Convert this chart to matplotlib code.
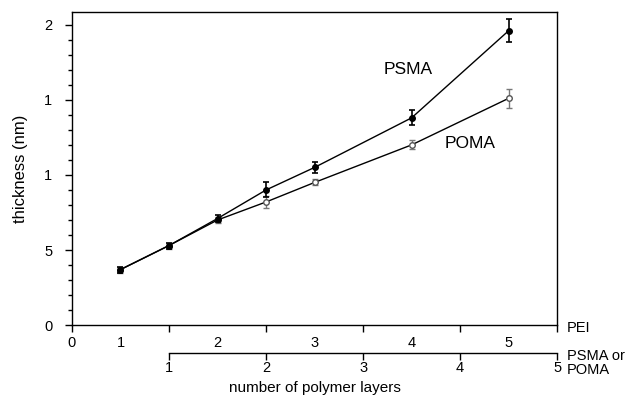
import matplotlib
matplotlib.use("Agg")
import matplotlib.pyplot as plt

plt.rcParams["font.family"] = ["Liberation Sans", "DejaVu Sans"]

# position along the deposition sequence (PEI layers odd, PSMA/POMA even)
x_psma = [1, 2, 3, 4, 5, 7, 9]
y_psma = [3.7, 5.3, 7.1, 9.0, 10.5, 13.8, 19.6]
e_psma = [0.2, 0.2, 0.2, 0.5, 0.35, 0.5, 0.75]

x_poma = [1, 2, 3, 4, 5, 7, 9]
y_poma = [3.7, 5.3, 7.0, 8.2, 9.5, 12.0, 15.1]
e_poma = [0.2, 0.2, 0.2, 0.4, 0.2, 0.3, 0.65]

yticks = [0, 5, 10, 15, 20]
ytick_labels = ["0", "5", "1", "1", "2"]
pei_pos = [1, 3, 5, 7, 9]
pei_labels = ["1", "2", "3", "4", "5"]
psma_pos = [2, 4, 6, 8, 10]
psma_labels = ["1", "2", "3", "4", "5"]

fig = plt.figure(figsize=(6.31, 3.98), dpi=100)
ax = fig.add_axes([0.114, 0.183, 0.769, 0.787])

ax.errorbar(x_poma, y_poma, yerr=e_poma, color="black", lw=1.0,
            ecolor="#777777", elinewidth=1.0, capsize=2.5, capthick=1.0,
            marker="o", ms=4, mfc="white", mec="#555555", zorder=2)
ax.errorbar(x_psma, y_psma, yerr=e_psma, color="black", lw=1.0,
            ecolor="black", elinewidth=1.2, capsize=2.5, capthick=1.2,
            marker="o", ms=4, mfc="black", mec="black", zorder=3)

ax.text(6.93, 17.0, "PSMA", fontsize=12.5, ha="center", va="center")
ax.text(8.2, 12.1, "POMA", fontsize=12.5, ha="center", va="center")

ax.set_xlim(0, 10)
ax.set_ylim(0, 20.85)
ax.set_yticks(yticks, ytick_labels)
ax.set_yticks(range(0, 21), minor=True)
ax.tick_params(axis="y", which="major", length=5, width=1, labelsize=10.5,
               pad=9)
ax.tick_params(axis="y", which="minor", length=3, width=1)
ax.set_ylabel("thickness (nm)", fontsize=12, labelpad=12)

# PEI axis: ticks at even positions, labels at odd ones
ax.set_xticks([0, 2, 4, 6, 8, 10], ["0", "", "", "", "", ""])
ax.set_xticks(pei_pos, pei_labels, minor=True)
ax.tick_params(axis="x", which="major", length=5, width=1, labelsize=10.5,
               pad=3)
ax.tick_params(axis="x", which="minor", length=0, labelsize=10.5, pad=8)

for s in ax.spines.values():
    s.set_linewidth(1.0)

sec = ax.secondary_xaxis(-0.088)
sec.set_xticks(psma_pos, psma_labels)
sec.spines["bottom"].set_bounds(2, 10)
sec.spines["bottom"].set_linewidth(1.0)
sec.tick_params(length=5, width=1, labelsize=10.5, pad=1)
sec.set_xlabel("number of polymer layers", fontsize=11, labelpad=4)

ax.text(1.02, -0.01, "PEI", transform=ax.transAxes, fontsize=10.5,
        ha="left", va="center")
ax.text(1.02, -0.12, "PSMA or\nPOMA", transform=ax.transAxes, fontsize=10.5,
        ha="left", va="center", linespacing=1.0)

fig.savefig("out.png", dpi=100)
